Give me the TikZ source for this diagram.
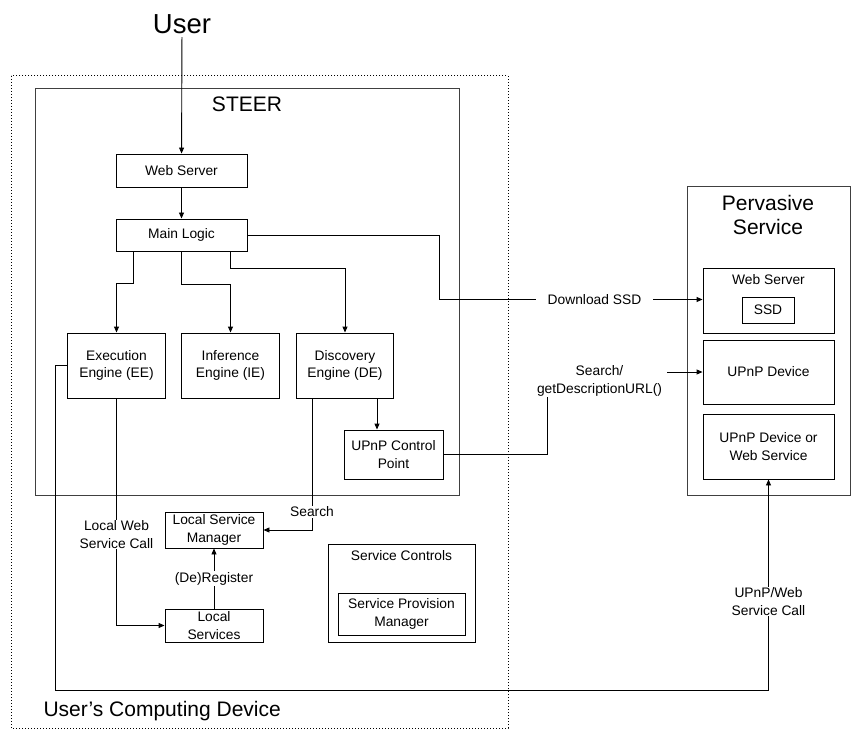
\documentclass[tikz,border=0pt]{standalone}
\usepackage{fontspec}
\setmainfont{Liberation Sans}
\usetikzlibrary{arrows.meta,positioning}

\newcommand{\boxfont}{\fontsize{13.8}{17.3}\selectfont}
\newcommand{\bigfont}{\fontsize{21}{24}\selectfont}
\newcommand{\userfont}{\fontsize{27.5}{32}\selectfont}

\tikzset{
  blk/.style={draw, line width=0.9pt, inner sep=0pt, align=center, font=\boxfont},
  lbl/.style={inner sep=1pt, align=center, font=\boxfont},
  arr/.style={line width=0.9pt, -{Triangle[length=6pt,width=5pt]}},
  wire/.style={line width=0.9pt},
  frame/.style={draw=black!75, line width=1pt}
}

\begin{document}
\begin{tikzpicture}[x=1pt, y=-1pt]
\useasboundingbox (0,0) rectangle (851,730);
% Outer device and STEER frames
\draw[line width=1pt, dash pattern=on 1pt off 2pt] (11,76) rectangle (508,728);
\draw[frame] (35,89) rectangle (459,495);
\node[font=\bigfont] (steer) at (247,104) {STEER};
\node[font=\bigfont, anchor=west] (device) at (40,711) {User’s Computing Device};
\node[font=\userfont] (user) at (182,24) {User};
% STEER components
\node[blk, minimum width=131, minimum height=33] (ws) at (181.5,170.5) {Web Server};
\node[blk, minimum width=131, minimum height=32] (ml) at (181.5,235) {Main Logic};
\node[blk, minimum width=98, minimum height=65] (ee) at (116.5,365.5) {Execution\\Engine (EE)};
\node[blk, minimum width=98, minimum height=65] (ie) at (230.5,365.5) {Inference\\Engine (IE)};
\node[blk, minimum width=97, minimum height=65] (de) at (345,365.5) {Discovery\\Engine (DE)};
\node[blk, minimum width=99, minimum height=49] (cp) at (393.5,454.5) {UPnP Control\\Point};
% Local services
\node[blk, minimum width=98, minimum height=36] (lsm) at (214,530) {Local Service\\Manager};
\node[blk, minimum width=98, minimum height=33] (ls) at (214,625.5) {Local\\Services};
\draw[blk] (328,544) rectangle (475,642);
\node[lbl] (sc) at (401.5,556) {Service Controls};
\node[blk, minimum width=127, minimum height=42] (spm) at (401.5,614) {Service Provision\\Manager};
% Pervasive service
\draw[frame] (687,187) rectangle (850,495);
\node[font=\bigfont, align=center] (ps) at (768,215) {Pervasive\\Service};
\node[blk, minimum width=131, minimum height=65] (pws) at (768.5,300.5) {};
\node[lbl] (pwslbl) at (768.5,280) {Web Server};
\node[blk, minimum width=52, minimum height=26] (ssd) at (768,310) {SSD};
\node[blk, minimum width=131, minimum height=64] (pud) at (768.5,372) {UPnP Device};
\node[blk, minimum width=131, minimum height=65] (pwsv) at (768.5,446.5) {UPnP Device or\\Web Service};
% Connectors
\draw[arr] (user) -- (ws);
\draw[arr] (ws) -- (ml);
\draw[arr] ([xshift=-48.5pt]ml.south) -- ++(0,32) -| (ee.north);
\draw[arr] (ml.south) -- ++(0,33) -| (ie.north);
\draw[arr] ([xshift=49pt]ml.south) -- ++(0,17) -| (de.north);
\draw[arr] ([xshift=32pt]de.south) -- ([xshift=32pt]de.south |- cp.north);
% Download SSD
\node[lbl, inner xsep=12pt] (dl) at (594.5,299.5) {Download SSD};
\coordinate (mlturn) at (439,299.5);
\draw[wire] (ml.east) -| (mlturn) -- (dl.west);
\draw[arr] (dl.east) -- (pws.west |- dl.east);
% Search / getDescriptionURL()
\node[lbl, inner xsep=5pt] (srch) at (599.5,381) {Search/\\getDescriptionURL()};
\draw[wire] (cp.east) -| ([xshift=-52pt]srch.south);
\draw[arr] (srch.east |- pud.west) -- (pud.west);
% Local calls
\draw[arr] ([xshift=-33pt]de.south) |- (lsm.east)
  node[lbl, pos=0.43, fill=white] {Search};
\draw[arr] (ee.south) |- (ls.west)
  node[lbl, pos=0.3, fill=white] {Local Web\\Service Call};
\draw[arr] (ls.north) -- (lsm.south)
  node[lbl, midway, fill=white] {(De)Register};
% Remote service call
\coordinate (callturn) at (55,690);
\draw[arr] (ee.west) -| (callturn) -| (pwsv.south)
  node[lbl, pos=0.71, fill=white] {UPnP/Web\\Service Call};
\end{tikzpicture}
\end{document}
